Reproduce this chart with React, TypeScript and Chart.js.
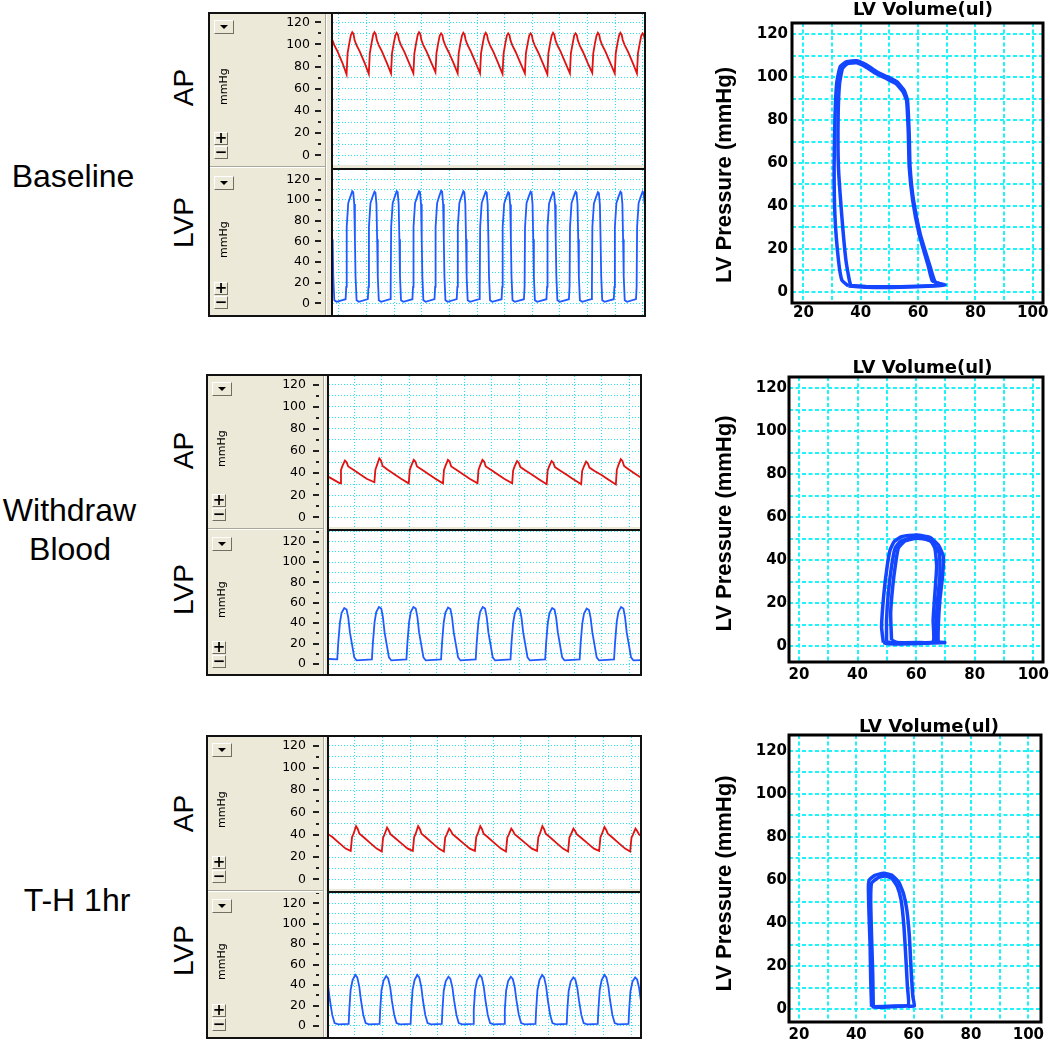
import React, { useEffect, useRef } from 'react';
import { Chart, registerables } from 'chart.js';

Chart.register(...registerables);
Chart.defaults.font.family = '"Liberation Sans", Arial, sans-serif';

const BEIGE = '#ECE9D8';
const AP_COLOR = '#e01212';
const LVP_COLOR = '#1f5bff';
const LOOP_COLOR = '#1446ff';
const TRACE_GRID = '#22e8f2';
const PV_GRID = '#1ef4f8';

const ROW_LABELS = [['Baseline'], ['Withdraw', 'Blood'], ['T-H 1hr']];
const CHANNEL_LABELS = ['AP', 'LVP'];
const UNIT_LABEL = 'mmHg';
const PV_TITLE = 'LV Volume(ul)';
const PV_Y_TITLE = 'LV Pressure (mmHg)';

// tick lists
const PRESSURE_TICKS = [0, 10, 20, 30, 40, 50, 60, 70, 80, 90, 100, 110, 120, 130];
const TIME_TICKS = [0, 100, 200, 300, 400, 500, 600, 700, 800, 900, 1000, 1100];
const VOLUME_TICKS = [20, 30, 40, 50, 60, 70, 80, 90, 100];
const PV_PRESSURE_TICKS = [0, 10, 20, 30, 40, 50, 60, 70, 80, 90, 100, 110, 120];

// ---- traces: flat [time (ms), pressure (mmHg)] pairs ----
const apBaseline = [
  -33, 111, -28, 109.5, -24, 104, -17, 99.5, -5, 93.5, 13, 83,
  27.5, 73, 31.1, 92, 37.3, 101, 43.1, 108.5, 48, 111, 52.5, 109.5, 56.5, 104, 63.5, 99.5, 75.5, 93.5, 93.5, 83,
  108, 73.5, 111.6, 92, 117.8, 101, 123.6, 108.5, 128.5, 111, 133, 109.5, 137, 104, 144, 99.5, 156, 93.5, 174, 83,
  188.5, 74, 192.1, 92, 198.3, 101, 204.1, 108, 209, 110.5, 213.5, 109, 217.5, 104, 224.5, 99.5, 236.5, 93.5, 254.5, 83,
  269.5, 74, 273.1, 92, 279.3, 101, 285.1, 108.5, 290, 111, 294.5, 109.5, 298.5, 104, 305.5, 99.5, 317.5, 93.5, 335.5, 83,
  349.5, 75, 353.1, 92, 359.3, 101, 365.1, 108, 370, 110, 374.5, 108.5, 378.5, 103.5, 385.5, 99, 397.5, 93, 415.5, 83,
  430, 74, 433.6, 92, 439.8, 101, 445.6, 108, 450.5, 110.5, 455, 109, 459, 104, 466, 99.5, 478, 93.5, 496, 83,
  511, 74, 514.6, 92, 520.8, 101, 526.6, 108, 531.5, 110.5, 536, 109, 540, 104, 547, 99.5, 559, 93.5, 577, 83,
  592.5, 73.5, 596.1, 91.5, 602.3, 100.5, 608.1, 108, 613, 110, 617.5, 108.5, 621.5, 103.5, 628.5, 99, 640.5, 93, 658.5, 82.5,
  673.5, 74, 677.1, 92, 683.3, 100.5, 689.1, 108, 694, 110, 698.5, 108.5, 702.5, 103.5, 709.5, 99, 721.5, 93, 739.5, 82.5,
  755, 73, 758.6, 92, 764.8, 101, 770.6, 108, 775.5, 110.5, 780, 109, 784, 104, 791, 99.5, 803, 93.5, 821, 83,
  836.5, 74, 840.1, 92, 846.3, 100.5, 852.1, 108, 857, 110, 861.5, 108.5, 865.5, 103.5, 872.5, 99, 884.5, 93, 902.5, 82.5,
  917.5, 74.5, 921.1, 92, 927.3, 101, 933.1, 108, 938, 110.5, 942.5, 109, 946.5, 104, 953.5, 99.5, 965.5, 93.5, 983.5, 83,
  999, 74, 1002.6, 92, 1008.8, 101, 1014.6, 108, 1019.5, 110.5, 1024, 109, 1028, 104, 1035, 99.5, 1047, 93.5, 1065, 83,
  1079.5, 74, 1083.1, 92, 1089.3, 100.5, 1095.1, 108, 1100, 110, 1104.5, 108.5, 1108.5, 103.5, 1115.5, 99,
];

const lvpBaseline = [
  -33, 108, -29, 107, -25.5, 96, -23, 62, -20.7, 26, -17, 3, -8.7, 1.5,
  24, 4, 26.3, 16, 28, 74, 33.5, 97, 41, 103, 48, 108.5, 51.6, 107.5, 55.2, 96, 57.7, 62, 60, 26, 63.7, 3, 72, 1.5,
  104.5, 4, 106.8, 16, 108.5, 74, 114, 97, 121.5, 103, 128.5, 108, 132.1, 107, 135.7, 96, 138.2, 62, 140.5, 26, 144.2, 3, 152.5, 1.5,
  185, 4, 187.3, 16, 189, 74, 194.5, 97, 202, 103, 209, 108.5, 212.6, 107.5, 216.2, 96, 218.7, 62, 221, 26, 224.7, 3, 233, 1.5,
  266, 4, 268.3, 16, 270, 74, 275.5, 97, 283, 103, 290, 108.5, 293.6, 107.5, 297.2, 96, 299.7, 62, 302, 26, 305.7, 3, 314, 1.5,
  346, 4, 348.3, 16, 350, 74, 355.5, 97, 363, 103.5, 370, 109, 373.6, 108, 377.2, 96, 379.7, 62, 382, 26, 385.7, 3, 394, 1.5,
  426.5, 4, 428.8, 16, 430.5, 74, 436, 97, 443.5, 103, 450.5, 108.5, 454.1, 107.5, 457.7, 96, 460.2, 62, 462.5, 26, 466.2, 3, 474.5, 1.5,
  507.5, 4, 509.8, 16, 511.5, 74, 517, 97, 524.5, 103, 531.5, 108, 535.1, 107, 538.7, 96, 541.2, 62, 543.5, 26, 547.2, 3, 555.5, 1.5,
  589, 4, 591.3, 16, 593, 74, 598.5, 96.5, 606, 102.5, 613, 107.5, 616.6, 106.5, 620.2, 95.5, 622.7, 62, 625, 26, 628.7, 3, 637, 1.5,
  670, 4, 672.3, 16, 674, 74, 679.5, 97, 687, 103, 694, 108, 697.6, 107, 701.2, 96, 703.7, 62, 706, 26, 709.7, 3, 718, 1.5,
  751.5, 4, 753.8, 16, 755.5, 74, 761, 96.5, 768.5, 102.5, 775.5, 107.5, 779.1, 106.5, 782.7, 95.5, 785.2, 62, 787.5, 26, 791.2, 3, 799.5, 1.5,
  833, 4, 835.3, 16, 837, 74, 842.5, 97, 850, 103, 857, 108, 860.6, 107, 864.2, 96, 866.7, 62, 869, 26, 872.7, 3, 881, 1.5,
  914, 4, 916.3, 16, 918, 74, 923.5, 96.5, 931, 102.5, 938, 107.5, 941.6, 106.5, 945.2, 95.5, 947.7, 62, 950, 26, 953.7, 3, 962, 1.5,
  995.5, 4, 997.8, 16, 999.5, 74, 1005, 97, 1012.5, 103, 1019.5, 108, 1023.1, 107, 1026.7, 96, 1029.2, 62, 1031.5, 26, 1035.2, 3, 1043.5, 1.5,
  1076, 4, 1078.3, 16, 1080, 74, 1085.5, 97, 1093, 103, 1100, 108, 1103.6, 107, 1107.2, 96, 1109.7, 62,
];

const apWithdraw = [
  -96, 37,
  -52, 30.8, -48.4, 43, -42.3, 47, -34, 51.3, -28, 49.8, -22, 46, -3.5, 43, 20.7, 39, 45, 35,
  73, 31.8, 76.6, 43, 82.7, 47.5, 91, 53.4, 97, 51.5, 103, 46.5, 121.5, 43, 145.7, 39, 170, 35,
  198, 30.8, 201.6, 43, 207.7, 47, 216, 52, 222, 50.5, 228, 46, 246.5, 43, 270.7, 39, 295, 35,
  322.5, 30.8, 326.1, 43, 332.2, 47, 340.5, 52, 346.5, 50.5, 352.5, 46, 371, 43, 395.2, 39, 419.5, 35,
  448, 30.8, 451.6, 43, 457.7, 47, 466, 52, 472, 50.5, 478, 46, 496.5, 43, 520.7, 39, 545, 35,
  574, 30.8, 577.6, 42.5, 583.7, 46.5, 592, 51, 598, 49.5, 604, 45.5, 622.5, 42.5, 646.7, 38.5, 671, 34.5,
  699.5, 30, 703.1, 42.5, 709.2, 46.5, 717.5, 51, 723.5, 49.5, 729.5, 45.5, 748, 42.5, 772.2, 38.5, 796.5, 34.5,
  825, 30, 828.6, 42, 834.7, 46, 843, 50.5, 849, 49, 855, 45, 873.5, 42, 897.7, 38.5, 922, 34.5,
  951, 29.8, 954.6, 43, 960.7, 47.5, 969, 52.6, 975, 51, 981, 46.5, 999.5, 43, 1023.7, 39, 1048, 35,
];

const lvpWithdraw = [
  -96, 5, -62, 4.5, -58.3, 21, -52.3, 40.6, -46.2, 50.3, -36.5, 55, -28, 53.5, -22, 45.5, -15.9, 31, -7.5, 18, -0.1, 6.5, 8.5, 3.5,
  64, 4.5, 67.7, 21, 73.7, 41, 79.8, 51, 89.5, 56, 98, 54.5, 104, 46, 110.1, 31, 118.5, 18, 125.9, 6.5, 134.5, 3.5,
  189.5, 4.5, 193.2, 21, 199.2, 41, 205.3, 51, 215, 56, 223.5, 54.5, 229.5, 46, 235.6, 31, 244, 18, 251.4, 6.5, 260, 3.5,
  315.5, 4.5, 319.2, 21, 325.2, 41, 331.3, 50.5, 341, 55.5, 349.5, 54, 355.5, 45.5, 361.6, 31, 370, 18, 377.4, 6.5, 386, 3.5,
  441.5, 4.5, 445.2, 21, 451.2, 41, 457.3, 51, 467, 56, 475.5, 54.5, 481.5, 46, 487.6, 31, 496, 18, 503.4, 6.5, 512, 3.5,
  568, 4.5, 571.7, 21, 577.7, 40.5, 583.8, 50, 593.5, 55, 602, 53.5, 608, 45.5, 614.1, 31, 622.5, 18, 629.9, 6.5, 638.5, 3.5,
  694, 4.5, 697.7, 21, 703.7, 40.5, 709.8, 50, 719.5, 55, 728, 53.5, 734, 45.5, 740.1, 31, 748.5, 18, 755.9, 6.5, 764.5, 3.5,
  819.5, 4.5, 823.2, 21, 829.2, 40, 835.3, 49.5, 845, 54.5, 853.5, 53, 859.5, 45, 865.6, 31, 874, 18, 881.4, 6.5, 890, 3.5,
  944.5, 4.5, 948.2, 21, 954.2, 41, 960.3, 51, 970, 56, 978.5, 54.5, 984.5, 46, 990.6, 31, 999, 18, 1006.4, 6.5, 1015, 3.5, 1045, 4,
];

const apTH = [
  -100, 41, -82, 38, -58, 32.7, -34, 27.6,
  -15.5, 25.5, -10.7, 38, -5.8, 40.5, 3.8, 47.7, 9.9, 45.2, 15.9, 41, 30.5, 38, 54.5, 32.7, 78.5, 27.6,
  97, 25, 101.8, 37.5, 106.7, 40, 116.3, 46.5, 122.4, 44, 128.4, 40.5, 143, 37.5, 167, 32.5, 191, 27.5,
  209.5, 25.5, 214.3, 38, 219.2, 40.5, 228.8, 47.7, 234.9, 45.2, 240.9, 41, 255.5, 38, 279.5, 32.7, 303.5, 27.6,
  322, 25, 326.8, 37.5, 331.7, 40, 341.3, 45.6, 347.4, 43.5, 353.4, 40.5, 368, 37.5, 392, 32.5, 416, 27.5,
  434.5, 25.5, 439.3, 38, 444.2, 40.5, 453.8, 47.7, 459.9, 45.2, 465.9, 41, 480.5, 38, 504.5, 32.7, 528.5, 27.6,
  547, 25, 551.8, 37.5, 556.7, 40, 566.3, 45.6, 572.4, 43.5, 578.4, 40.5, 593, 37.5, 617, 32.5, 641, 27.5,
  659.5, 25.5, 664.3, 38, 669.2, 40.5, 678.8, 47.7, 684.9, 45.2, 690.9, 41, 705.5, 38, 729.5, 32.7, 753.5, 27.6,
  772, 25, 776.8, 37.5, 781.7, 40, 791.3, 45.6, 797.4, 43.5, 803.4, 40.5, 818, 37.5, 842, 32.5, 866, 27.5,
  884.5, 25.5, 889.3, 38, 894.2, 40.5, 903.8, 47, 909.9, 44.5, 915.9, 41, 930.5, 38, 954.5, 32.7, 978.5, 27.6,
  997, 25, 1001.8, 37.5, 1006.7, 40, 1016.3, 45.6, 1022.4, 43.5, 1028.4, 40.5, 1043, 37.5,
];

const lvpTH = [
  -97, 38.5, -91, 25.4, -82.5, 10.8, -74, 2.8, -60, 1.5,
  -23, 2, -20.7, 15.6, -16, 35, -8.7, 45, 1, 49.9, 8.2, 47.5, 15.5, 38.5, 21.5, 25.4, 30, 10.8, 38.4, 2.8, 51, 1.5,
  89, 2, 91.3, 15.6, 96, 35, 103.3, 44.5, 113, 48.9, 120.2, 46.5, 127.5, 38, 133.5, 25, 142, 10.8, 150.4, 2.8, 163, 1.5,
  201.5, 2, 203.8, 15.6, 208.5, 35, 215.8, 45, 225.5, 49.9, 232.7, 47.5, 240, 38.5, 246, 25.4, 254.5, 10.8, 262.9, 2.8, 275.5, 1.5,
  314.5, 2, 316.8, 15.6, 321.5, 34.5, 328.8, 44, 338.5, 48.2, 345.7, 46, 353, 37.5, 359, 25, 367.5, 10.8, 375.9, 2.8, 388.5, 1.5,
  428, 2, 430.3, 15.6, 435, 35, 442.3, 45, 452, 49.9, 459.2, 47.5, 466.5, 38.5, 472.5, 25.4, 481, 10.8, 489.4, 2.8, 502, 1.5,
  540.5, 2, 542.8, 15.6, 547.5, 34.5, 554.8, 44, 564.5, 48.2, 571.7, 46, 579, 37.5, 585, 25, 593.5, 10.8, 601.9, 2.8, 614.5, 1.5,
  654, 2, 656.3, 15.6, 661, 35, 668.3, 45, 678, 49.9, 685.2, 47.5, 692.5, 38.5, 698.5, 25.4, 707, 10.8, 715.4, 2.8, 728, 1.5,
  767, 2, 769.3, 15.6, 774, 34, 781.3, 43.5, 791, 47.5, 798.2, 45.5, 805.5, 37, 811.5, 25, 820, 10.8, 828.4, 2.8, 841, 1.5,
  879.5, 2, 881.8, 15.6, 886.5, 35, 893.8, 45, 903.5, 49.9, 910.7, 47.5, 918, 38.5, 924, 25.4, 932.5, 10.8, 940.9, 2.8, 953.5, 1.5,
  991, 2, 993.3, 15.6, 998, 34, 1005.3, 43.5, 1015, 47.5, 1022.2, 45.5, 1029.5, 37, 1035.5, 25, 1044, 10.8,
];

// ---- PV loops: flat [volume (ul), pressure (mmHg)] pairs ----
const pvBaselineA = [
  35.7, 2.6, 42.1, 2, 53.7, 2, 65.3, 2.6, 69.4, 3.1, 66, 4.5, 64.2, 11.7, 60.7, 27.2, 58.4, 42.7, 57.2, 58.3,
  56.9, 73.8, 56.3, 89.4, 55.1, 94, 52.6, 97.9, 49.1, 100.3, 45.6, 102.6, 42.1, 105.7, 38.6, 107.7, 35.1, 107.3,
  32.8, 104.9, 31.6, 97.2, 31, 81.6, 30.7, 58.3, 31, 35, 32.2, 14.8, 33.4, 5.4, 35.7, 2.6,
];
const pvBaselineB = [
  36.5, 2.8, 42.1, 2.3, 53.7, 2.3, 65, 2.8, 68.5, 3.3, 65, 5, 63.6, 11.7, 60.3, 27.2, 58.1, 42.7, 56.9, 58.3,
  56.6, 73.8, 56, 89, 54.7, 93.3, 52.3, 97, 48.9, 99.4, 45.5, 101.6, 42, 104.6, 38.6, 106.7, 35.4, 106.4,
  33.6, 104, 32.6, 97, 32.1, 81.6, 32.2, 58.3, 33.4, 35, 34.8, 14.8, 36, 5.4, 36.5, 2.8,
];
const pvWithdrawA = [
  48.8, 1.6, 48.2, 9, 49, 24.5, 50.1, 37, 51.1, 44.7, 52.5, 48.6, 55, 50.9, 60.2, 51.7, 64.7, 50.6, 67.6, 47,
  69.3, 41.6, 69, 32.3, 68.1, 21.4, 67.6, 10.6, 67.6, 2, 69.8, 1.6, 60.2, 1.2, 54.5, 0.9, 49.9, 1.2, 48.8, 1.6,
];
const pvWithdrawB = [
  49.9, 2, 49.9, 12.1, 50.5, 24.5, 51.6, 37, 52.8, 45.5, 54.5, 48.6, 57.9, 50.2, 61.3, 50.5, 65.3, 48.6, 67.9, 43.2,
  68.1, 32.3, 67.2, 19.9, 66.8, 9, 66.8, 2, 60.2, 1.6, 52.2, 1.6, 49.9, 2,
];
const pvWithdrawC = [
  51.6, 2.8, 51.3, 15.2, 52, 27.6, 53, 38.5, 53.9, 45.5, 56.2, 48.9, 60.2, 50.2, 64.7, 49.4, 66.4, 45.5, 67, 37,
  66.4, 24.5, 65.8, 12.1, 65.8, 2, 59, 1.2, 53.3, 1.6, 51.6, 2.8,
];
const pvTHA = [
  45.3, 1.2, 45, 13.6, 44.8, 29.1, 44.4, 44.5, 44.2, 56.9, 44.5, 60, 46.5, 62.2, 49.4, 63.1, 52.3, 62.3, 54.7, 59.2,
  56.4, 53.8, 57.6, 46.1, 58.5, 33.7, 59.1, 18.2, 59.7, 5.9, 60.2, 1.5, 57.6, 1.5, 52.9, 1.2, 48.3, 0.9, 45.3, 1.2,
];
const pvTHB = [
  45.9, 1.2, 45.7, 16.7, 45.3, 33.7, 45, 50.7, 45.3, 58.5, 47.7, 61.2, 50, 61.9, 52.3, 60.8, 54.3, 56.9, 55.6, 50.7,
  56.6, 38.3, 57.3, 22.9, 57.8, 10.5, 58.1, 2, 52.9, 1.5, 45.9, 1.2,
];

const TRACE_DATA = [
  [apBaseline, lvpBaseline],
  [apWithdraw, lvpWithdraw],
  [apTH, lvpTH],
];
const LOOP_DATA = [
  [pvBaselineA, pvBaselineB],
  [pvWithdrawA, pvWithdrawB, pvWithdrawC],
  [pvTHA, pvTHB],
];

// ---- layout (page pixels) and axis ranges ----
const PANELS = [
  { outerL: 208, outerR: 646, outerT: 12, outerB: 317, plotL: 333, plotR: 644, apT: 14, apB: 165, lvpT: 170, lvpB: 315, sep: 8, dashGap: 12,
    xMin: -21.7, xMax: 1105, apRange: [-8.75, 127.5], lvpRange: [-11.3, 129] },
  { outerL: 206, outerR: 642, outerT: 374, outerB: 676, plotL: 329, plotR: 640, apT: 376, apB: 527, lvpT: 531, lvpB: 674, sep: 6, dashGap: 10,
    xMin: -92, xMax: 1038.9, apRange: [-8.6, 127.7], lvpRange: [-9.8, 130.5] },
  { outerL: 206, outerR: 642, outerT: 735, outerB: 1039, plotL: 329, plotR: 640, apT: 737, apB: 889, lvpT: 893, lvpB: 1037, sep: 6, dashGap: 10,
    xMin: -94.2, xMax: 1032.6, apRange: [-8.7, 127.8], lvpRange: [-10.8, 130.1] },
];

const ROW_TEXT = [
  { lines: [{ cx: 73, top: 159.6 }], ap: [184, 88], lvp: [184, 223] },
  { lines: [{ cx: 69.5, top: 494.4 }, { cx: 70, top: 533.4 }], ap: [184, 451], lvp: [184, 590] },
  { lines: [{ cx: 77, top: 884.4 }], ap: [184, 814], lvp: [184, 951] },
];

const PV_LAYOUT = [
  { top: 0, height: 330, area: { left: 92, right: 343, top: 23, bottom: 303 }, x: [16, 103.6], y: [-5.3, 125.3], xPad: 1, yPad: 4, title: [223, 10], ylab: [25, 175] },
  { top: 355, height: 330, area: { left: 89, right: 343, top: 22, bottom: 307 }, x: [16.6, 103.3], y: [-7.45, 125.3], xPad: 4, yPad: 2, title: [222.5, 13.5], ylab: [25, 168.5] },
  { top: 715, height: 327, area: { left: 89, right: 341, top: 20, bottom: 307 }, x: [16.5, 104.4], y: [-5.9, 127.3], xPad: 4, yPad: 2, title: [229, 12.5], ylab: [25, 168.5] },
];

function toPoints(flat: number[]) {
  const out: { x: number; y: number }[] = [];
  for (let i = 0; i + 1 < flat.length; i += 2) out.push({ x: flat[i], y: flat[i + 1] });
  return out;
}

function zeroPad(s: any) {
  s.paddingTop = 0; s.paddingBottom = 0; s.paddingLeft = 0; s.paddingRight = 0;
}

const traceDecor = {
  id: 'traceDecor',
  beforeDraw(chart: any) {
    const { ctx, chartArea: a } = chart;
    ctx.save();
    ctx.fillStyle = '#ffffff';
    ctx.fillRect(a.left, a.top, a.right - a.left, a.bottom - a.top);
    ctx.restore();
  },
  afterDraw(chart: any, _args: any, opts: any) {
    const { ctx, chartArea: a, scales } = chart;
    const y = scales.y;
    ctx.save();
    ctx.fillStyle = '#222';
    for (const t of y.ticks) {
      const py = Math.round(y.getPixelForValue(t.value));
      const major = t.value % 20 === 0 && t.value <= 120;
      const len = major ? 6 : 3;
      ctx.fillRect(a.left - opts.gap - len, py - 1, len, 2);
    }
    ctx.restore();
  },
};

const pvDecor = {
  id: 'pvDecor',
  beforeDraw(chart: any) {
    const { ctx, chartArea: a } = chart;
    ctx.save();
    ctx.fillStyle = '#ffffff';
    ctx.fillRect(a.left, a.top, a.right - a.left, a.bottom - a.top);
    ctx.restore();
  },
  afterDraw(chart: any, _args: any, opts: any) {
    const { ctx, chartArea: a } = chart;
    ctx.save();
    ctx.strokeStyle = '#000';
    ctx.lineWidth = 3;
    ctx.strokeRect(a.left, a.top, a.right - a.left, a.bottom - a.top);
    ctx.fillStyle = '#000';
    ctx.textAlign = 'center';
    ctx.textBaseline = 'middle';
    ctx.font = 'bold 18px "DejaVu Sans"';
    ctx.fillText(opts.title, opts.titleX, opts.titleY);
    ctx.translate(opts.ylabX, opts.ylabY);
    ctx.rotate(-Math.PI / 2);
    ctx.font = 'bold 22px "Liberation Sans"';
    ctx.fillText(opts.ylab, 0, 0);
    ctx.restore();
  },
};

function TraceChart(props: any) {
  const { left, top, width, height, axisWidth, xMin, xMax, yMin, yMax, data, color, dashGap } = props;
  const ref = useRef<HTMLCanvasElement>(null);
  useEffect(() => {
    const chart = new Chart(ref.current as HTMLCanvasElement, {
      type: 'scatter',
      data: {
        datasets: [{ data: toPoints(data), showLine: true, borderColor: color, backgroundColor: color, borderWidth: 1.8, pointRadius: 0, tension: 0 }],
      },
      options: {
        animation: false,
        responsive: false,
        devicePixelRatio: 1,
        events: [],
        layout: { padding: 0 },
        plugins: { legend: { display: false }, tooltip: { enabled: false }, traceDecor: { gap: dashGap } },
        scales: {
          x: {
            type: 'linear', min: xMin, max: xMax,
            afterBuildTicks: (s: any) => { s.ticks = TIME_TICKS.filter((v) => v >= xMin && v <= xMax).map((v) => ({ value: v })); },
            afterFit: (s: any) => { s.height = 0; zeroPad(s); },
            ticks: { display: false, autoSkip: false },
            grid: { color: TRACE_GRID, lineWidth: 1, drawTicks: false },
            border: { display: false, dash: [1, 2] },
          },
          y: {
            type: 'linear', min: yMin, max: yMax,
            afterBuildTicks: (s: any) => { s.ticks = PRESSURE_TICKS.filter((v) => v >= yMin && v <= yMax).map((v) => ({ value: v })); },
            afterFit: (s: any) => { s.width = axisWidth; zeroPad(s); },
            ticks: {
              autoSkip: false, padding: 23, color: '#000',
              font: { family: '"DejaVu Sans"', size: 12.5 },
              callback: (v: any) => (v % 20 === 0 && v <= 120 ? String(v) : ''),
            },
            grid: { color: TRACE_GRID, lineWidth: 1, drawTicks: false },
            border: { display: false, dash: [1, 2] },
          },
        },
      },
      plugins: [traceDecor],
    } as any);
    return () => chart.destroy();
  }, []);
  return <canvas ref={ref} width={width} height={height} style={{ position: 'absolute', left, top, width, height }} />;
}

function PVChart(props: any) {
  const { cfg, loops } = props;
  const ref = useRef<HTMLCanvasElement>(null);
  useEffect(() => {
    const W = 350;
    const a = cfg.area;
    const chart = new Chart(ref.current as HTMLCanvasElement, {
      type: 'scatter',
      data: {
        datasets: loops.map((l: number[]) => ({
          data: toPoints(l), showLine: true, borderColor: LOOP_COLOR, backgroundColor: LOOP_COLOR,
          borderWidth: 3.5, pointRadius: 0, tension: 0.15,
        })),
      },
      options: {
        animation: false,
        responsive: false,
        devicePixelRatio: 1,
        events: [],
        layout: { padding: { top: a.top, right: W - a.right, bottom: 0, left: 0 } },
        plugins: {
          legend: { display: false }, tooltip: { enabled: false },
          pvDecor: { title: PV_TITLE, titleX: cfg.title[0], titleY: cfg.title[1], ylab: PV_Y_TITLE, ylabX: cfg.ylab[0], ylabY: cfg.ylab[1] },
        },
        scales: {
          x: {
            type: 'linear', min: cfg.x[0], max: cfg.x[1],
            afterBuildTicks: (s: any) => { s.ticks = VOLUME_TICKS.map((v) => ({ value: v })); },
            afterFit: (s: any) => { s.height = cfg.height - a.bottom; zeroPad(s); },
            ticks: {
              autoSkip: false, maxRotation: 0, padding: cfg.xPad, color: '#000',
              font: { family: '"DejaVu Sans"', size: 15, weight: 'bold' },
              callback: (v: any) => (v % 20 === 0 ? String(v) : ''),
            },
            grid: { color: PV_GRID, lineWidth: 2, drawTicks: false },
            border: { display: false, dash: [4, 2.5] },
          },
          y: {
            type: 'linear', min: cfg.y[0], max: cfg.y[1],
            afterBuildTicks: (s: any) => { s.ticks = PV_PRESSURE_TICKS.map((v) => ({ value: v })); },
            afterFit: (s: any) => { s.width = a.left; zeroPad(s); },
            ticks: {
              autoSkip: false, padding: cfg.yPad, color: '#000',
              font: { family: '"DejaVu Sans"', size: 15, weight: 'bold' },
              callback: (v: any) => (v % 20 === 0 ? String(v) : ''),
            },
            grid: { color: PV_GRID, lineWidth: 2, drawTicks: false },
            border: { display: false, dash: [4, 2.5] },
          },
        },
      },
      plugins: [pvDecor],
    } as any);
    return () => chart.destroy();
  }, []);
  return <canvas ref={ref} width={350} height={cfg.height} style={{ position: 'absolute', left: 700, top: cfg.top, width: 350, height: cfg.height }} />;
}

const abs = (left: number, top: number, width: number, height: number, extra: any = {}) => ({
  position: 'absolute' as const, left, top, width, height, ...extra,
});

function Btn({ left, top, w, h, children }: any) {
  return (
    <div style={abs(left, top, w, h, {
      boxSizing: 'border-box', background: BEIGE,
      borderTop: '1px solid #fff', borderLeft: '1px solid #fff',
      borderRight: '1px solid #716f64', borderBottom: '1px solid #716f64',
      display: 'flex', alignItems: 'center', justifyContent: 'center',
      fontFamily: '"DejaVu Sans", sans-serif', fontWeight: 'bold', fontSize: 15, lineHeight: '11px', color: '#000',
    })}>{children}</div>
  );
}

function Rot({ cx, cy, size, family, children, weight }: any) {
  const w = 160, h = size * 1.4;
  return (
    <div style={abs(cx - w / 2, cy - h / 2, w, h, {
      lineHeight: h + 'px', textAlign: 'center', fontSize: size, fontFamily: family, fontWeight: weight || 'normal',
      color: '#000', transform: 'rotate(-90deg)', whiteSpace: 'nowrap',
    })}>{children}</div>
  );
}

function SubControls({ g, top, bottom }: any) {
  const mid = (top + bottom) / 2 - 3;
  return (
    <>
      <Btn left={g.outerL + 6} top={top + 6} w={20} h={14}>
        <div style={{ width: 0, height: 0, borderLeft: '4px solid transparent', borderRight: '4px solid transparent', borderTop: '4px solid #000' }} />
      </Btn>
      <Btn left={g.outerL + 6} top={bottom - 33} w={14} h={13}>+</Btn>
      <Btn left={g.outerL + 6} top={bottom - 19} w={14} h={13}>−</Btn>
      <Rot cx={g.outerL + 16} cy={mid} size={11} family='"DejaVu Sans", sans-serif'>{UNIT_LABEL}</Rot>
    </>
  );
}

function Panel({ idx }: any) {
  const g = PANELS[idx];
  const [ap, lvp] = TRACE_DATA[idx];
  const innerL = g.outerL + 2;
  const cw = g.plotR - innerL;
  const axisWidth = g.plotL - innerL;
  const sepX = g.plotL - g.sep;
  return (
    <>
      <div style={abs(g.outerL, g.outerT, g.outerR - g.outerL, g.outerB - g.outerT, { boxSizing: 'border-box', border: '2px solid #111', background: BEIGE })} />
      <div style={abs(sepX, g.outerT + 2, 1, g.outerB - g.outerT - 4, { background: '#aca899' })} />
      <div style={abs(sepX + 1, g.outerT + 2, 1, g.outerB - g.outerT - 4, { background: '#fff' })} />
      <div style={abs(innerL, g.apB + 1, sepX - innerL, 1, { background: '#aca899' })} />
      <div style={abs(innerL, g.apB + 2, sepX - innerL, 1, { background: '#fff' })} />
      <TraceChart left={innerL} top={g.apT} width={cw} height={g.apB - g.apT} axisWidth={axisWidth}
        xMin={g.xMin} xMax={g.xMax} yMin={g.apRange[0]} yMax={g.apRange[1]} data={ap} color={AP_COLOR} dashGap={g.dashGap} />
      <TraceChart left={innerL} top={g.lvpT} width={cw} height={g.lvpB - g.lvpT} axisWidth={axisWidth}
        xMin={g.xMin} xMax={g.xMax} yMin={g.lvpRange[0]} yMax={g.lvpRange[1]} data={lvp} color={LVP_COLOR} dashGap={g.dashGap} />
      <div style={abs(g.plotL - 2, g.apT, 2, g.lvpB - g.apT, { background: '#111' })} />
      <div style={abs(g.plotL - 2, g.lvpT - 2, g.plotR - g.plotL + 2, 2, { background: '#111' })} />
      <SubControls g={g} top={g.apT} bottom={g.apB} />
      <SubControls g={g} top={g.lvpT} bottom={g.lvpB} />
    </>
  );
}

function RowText({ idx }: any) {
  const t = ROW_TEXT[idx];
  return (
    <>
      {ROW_LABELS[idx].map((txt, i) => (
        <div key={i} style={abs(t.lines[i].cx - 100, t.lines[i].top, 200, 32, {
          lineHeight: '32px', fontSize: 32, textAlign: 'center', whiteSpace: 'nowrap',
          fontFamily: '"Liberation Sans", Arial, sans-serif', color: '#000',
        })}>{txt}</div>
      ))}
      <Rot cx={t.ap[0]} cy={t.ap[1]} size={28} family='"Liberation Sans", Arial, sans-serif'>{CHANNEL_LABELS[0]}</Rot>
      <Rot cx={t.lvp[0]} cy={t.lvp[1]} size={28} family='"Liberation Sans", Arial, sans-serif'>{CHANNEL_LABELS[1]}</Rot>
    </>
  );
}

export default function App() {
  return (
    <div style={abs(0, 0, 1050, 1042, { background: '#fff', overflow: 'hidden' })}>
      {[0, 1, 2].map((i) => (
        <React.Fragment key={i}>
          <RowText idx={i} />
          <Panel idx={i} />
          <PVChart cfg={PV_LAYOUT[i]} loops={LOOP_DATA[i]} />
        </React.Fragment>
      ))}
    </div>
  );
}
